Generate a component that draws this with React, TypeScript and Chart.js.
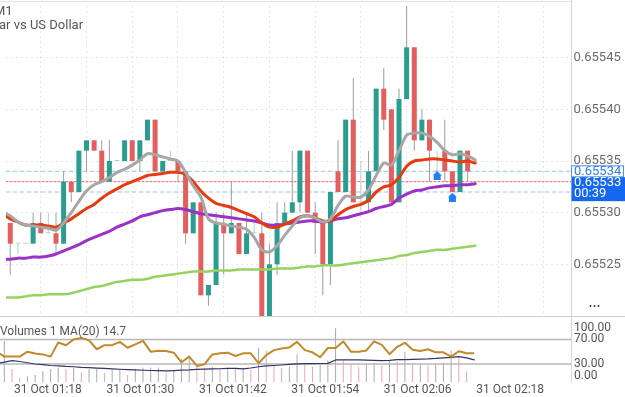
import React, { useEffect, useRef } from "react";
import { Chart, registerables } from "chart.js";

Chart.register(...registerables);

const FONT = "Roboto, 'Liberation Sans', Arial, sans-serif";

// ---- candles (1 per minute, index 0 = 31 Oct 01:17) ----
const opens = [
  0.65529, 0.65527, 0.65527, 0.65527, 0.65529, 0.65528, 0.65528, 0.65527, 0.65533, 0.65532,
  0.65536, 0.65537, 0.65536, 0.65533, 0.65535, 0.65535, 0.65537, 0.65535, 0.65537, 0.65539,
  0.65534, 0.65535, 0.65535, 0.65534, 0.65528, 0.65531, 0.65522, 0.65523, 0.65529, 0.65528,
  0.65529, 0.65526, 0.65528, 0.65528, 0.6552, 0.65525, 0.65529, 0.6553, 0.65531, 0.65536,
  0.6553, 0.65529, 0.65525, 0.65534, 0.65532, 0.65539, 0.65531, 0.65531, 0.65534, 0.65542,
  0.6554, 0.65531, 0.65541, 0.65546, 0.65537, 0.65539, 0.65534, 0.65536, 0.65534, 0.65532,
  0.65536,
];
const highs = [
  0.65529, 0.65527, 0.65527, 0.6553, 0.6553, 0.6553, 0.6553, 0.65534, 0.65533, 0.65536,
  0.65537, 0.65537, 0.65537, 0.65537, 0.65535, 0.65537, 0.65537, 0.65537, 0.65539, 0.65539,
  0.65535, 0.65536, 0.65535, 0.65534, 0.65531, 0.65531, 0.65523, 0.6553, 0.6553, 0.65533,
  0.65529, 0.6553, 0.65529, 0.6553, 0.65527, 0.65531, 0.65531, 0.65536, 0.65536, 0.65536,
  0.65531, 0.65529, 0.65532, 0.65537, 0.65539, 0.65543, 0.65535, 0.65536, 0.65542, 0.65544,
  0.6554, 0.65542, 0.6555, 0.65546, 0.6554, 0.65539, 0.65536, 0.65539, 0.65534, 0.65536,
  0.65536,
];
const lows = [
  0.65524, 0.65526, 0.65527, 0.65527, 0.65528, 0.65528, 0.65526, 0.65527, 0.65531, 0.65532,
  0.65534, 0.65536, 0.65533, 0.65533, 0.65535, 0.65535, 0.65535, 0.65534, 0.65537, 0.65534,
  0.65534, 0.65535, 0.65533, 0.65527, 0.65528, 0.65522, 0.65521, 0.65523, 0.65524, 0.65528,
  0.65526, 0.65526, 0.65528, 0.6552, 0.6552, 0.65524, 0.65529, 0.6553, 0.6553, 0.6553,
  0.65526, 0.65522, 0.65523, 0.65532, 0.65532, 0.65531, 0.6553, 0.6553, 0.65534, 0.65538,
  0.65531, 0.65531, 0.65541, 0.65536, 0.65537, 0.65533, 0.65534, 0.65533, 0.65532, 0.65532,
  0.65533,
];
const closes = [
  0.65527, 0.65527, 0.65527, 0.65529, 0.65528, 0.65528, 0.65527, 0.65533, 0.65532, 0.65536,
  0.65537, 0.65536, 0.65533, 0.65535, 0.65535, 0.65537, 0.65535, 0.65537, 0.65539, 0.65534,
  0.65535, 0.65535, 0.65534, 0.65528, 0.65531, 0.65522, 0.65523, 0.65529, 0.65528, 0.65529,
  0.65526, 0.65528, 0.65528, 0.6552, 0.65525, 0.65529, 0.6553, 0.65531, 0.65536, 0.6553,
  0.65529, 0.65525, 0.65532, 0.65532, 0.65539, 0.65531, 0.65531, 0.65534, 0.65542, 0.65539,
  0.65531, 0.65541, 0.65546, 0.65537, 0.65539, 0.65536, 0.65534, 0.65534, 0.65532, 0.65536,
  0.65534,
];

// ---- moving averages (first value belongs to the candle before index 0) ----
const MA_START = -1;
const maFast = [
  0.655301,
  0.655297, 0.655291, 0.655288, 0.655287, 0.655286, 0.655285, 0.655283, 0.65529, 0.6553, 0.655311,
  0.655321, 0.655327, 0.65533, 0.655334, 0.655339, 0.655342, 0.655346, 0.655351, 0.655357, 0.655356,
  0.655354, 0.655352, 0.65535, 0.655339, 0.655326, 0.655315, 0.655294, 0.65529, 0.655289, 0.655287,
  0.655286, 0.655284, 0.655276, 0.655264, 0.655262, 0.655268, 0.655278, 0.655287, 0.655295, 0.655297,
  0.655295, 0.655291, 0.655294, 0.655307, 0.655316, 0.655315, 0.655315, 0.655322, 0.655336, 0.655348,
  0.655346, 0.65536, 0.655375, 0.655377, 0.655377, 0.655374, 0.655368, 0.65536, 0.655356, 0.655357,
  0.655355, 0.655351,
];
const maMid = [
  0.655299,
  0.655294, 0.655291, 0.655288, 0.655288, 0.655288, 0.655287, 0.655286, 0.65529, 0.655294, 0.655299,
  0.655304, 0.655308, 0.655314, 0.655319, 0.655323, 0.655327, 0.65533, 0.655333, 0.655336, 0.655337,
  0.655338, 0.655339, 0.655339, 0.655337, 0.65533, 0.655321, 0.655314, 0.655309, 0.655307, 0.655305,
  0.655302, 0.655299, 0.655296, 0.65529, 0.655286, 0.655286, 0.655289, 0.655292, 0.655296, 0.655297,
  0.655295, 0.655292, 0.655292, 0.655298, 0.655303, 0.655306, 0.655308, 0.655312, 0.65532, 0.655325,
  0.655327, 0.655334, 0.655345, 0.65535, 0.655351, 0.655352, 0.655352, 0.655351, 0.65535, 0.655349,
  0.65535, 0.655348,
];
const maLong = [
  0.655255,
  0.655255, 0.655256, 0.655256, 0.655257, 0.655257, 0.655258, 0.65526, 0.655263, 0.655266, 0.655269,
  0.655273, 0.655276, 0.655279, 0.655282, 0.655286, 0.655289, 0.655292, 0.655296, 0.655298, 0.6553,
  0.655302, 0.655303, 0.655304, 0.655303, 0.655301, 0.655299, 0.655298, 0.655297, 0.655296, 0.655295,
  0.655294, 0.655293, 0.655292, 0.65529, 0.655288, 0.655288, 0.655289, 0.65529, 0.655291, 0.655292,
  0.655292, 0.655291, 0.655292, 0.655294, 0.655295, 0.655297, 0.655299, 0.655301, 0.655304, 0.655306,
  0.655308, 0.655314, 0.655318, 0.655321, 0.655322, 0.655324, 0.655325, 0.655326, 0.655326, 0.655327,
  0.655327, 0.655328,
];
const maSlow = [
  0.655218,
  0.655218, 0.655218, 0.655219, 0.65522, 0.65522, 0.655221, 0.655221, 0.655221, 0.655222, 0.655224,
  0.655226, 0.655228, 0.655229, 0.655231, 0.655233, 0.655234, 0.655235, 0.655235, 0.655236, 0.655238,
  0.655239, 0.65524, 0.655241, 0.655242, 0.655243, 0.655243, 0.655243, 0.655244, 0.655244, 0.655244,
  0.655245, 0.655245, 0.655245, 0.655245, 0.655245, 0.655246, 0.655246, 0.655246, 0.655247, 0.655248,
  0.655248, 0.655249, 0.655249, 0.655249, 0.65525, 0.655251, 0.655252, 0.655253, 0.655254, 0.655255,
  0.655256, 0.655258, 0.655259, 0.655261, 0.655262, 0.655263, 0.655264, 0.655264, 0.655265, 0.655266,
  0.655267, 0.655268,
];

// ---- price lines and signals ----
const bidPrice = 0.65533;
const askPrice = 0.65534;
const lowLine = 0.65532;
const countdown = "00:39";
const signalIdx = [56, 58];
const signalPrice = [0.655336, 0.655315];

// ---- axes ----
const X_MIN = -0.56;
const X_MAX = 73.56;
const priceTicks = [0.65525, 0.6553, 0.65535, 0.6554, 0.65545];
const gridIdx = [1, 7, 13, 19, 25, 31, 37, 43, 49, 55, 61, 67, 73];
const timeLabels = ["31 Oct 01:18", "31 Oct 01:30", "31 Oct 01:42", "31 Oct 01:54", "31 Oct 02:06", "31 Oct 02:18"];
const timeLabelIdx = [1, 13, 25, 37, 49, 61];

// ---- lower panel ----
const volumes = [
  68, 22, 8, 10, 12, 18, 22, 24, 22, 24,
  16, 22, 22, 15, 20, 22, 12, 22, 24, 24,
  24, 16, 20, 38, 44, 30, 24, 26, 22, 24,
  22, 24, 20, 56, 52, 28, 24, 26, 46, 30,
  26, 30, 36, 88, 36, 30, 26, 30, 32, 28,
  36, 34, 50, 30, 30, 28, 30, 32, 52, 40,
  18,
];
const oscGold = [
  50,
  42, 42, 42, 50, 47, 45.6, 42, 65, 60.6, 70,
  72.5, 68.6, 54, 60.6, 60.6, 66, 56.4, 62, 67.7, 50,
  51.6, 51, 48.4, 32.8, 42, 26.8, 29.6, 45.6, 47.3, 48.4,
  43, 47.3, 47.3, 31.2, 44.5, 52.6, 55.3, 57, 66, 52.6,
  49, 41, 56, 56, 66.7, 50, 50, 52, 66.7, 61,
  46, 58, 64.5, 53, 51, 54, 49, 49, 42, 50.8,
  47.5, 47.5,
];
const oscNavy = [
  31,
  33, 35.5, 34, 32, 30, 29, 27.5, 27, 26, 25.5,
  24.5, 24, 23.3, 22.7, 22, 21.4, 20.8, 20.3, 19.8, 19.4,
  19.1, 18.8, 19.3, 20, 20.5, 21.3, 21.6, 21.9, 22.2, 22.7,
  23, 22, 23.5, 25.5, 26.8, 27.5, 28.3, 29.3, 30.3, 30.7,
  30.7, 30.8, 31, 36.6, 36.6, 36.6, 36.6, 36.3, 36, 35.5,
  36, 37, 37.2, 37.5, 38, 38.3, 39, 40, 40.7, 42,
  40, 36.6,
];
const subTicks = [100, 70, 30, 0];
const subLevels = [70, 30];

const TEAL = "#2a9d8f";
const RED = "#e25f5e";
const DOJI = "#b8d0cb";
const WICK = "#9d9d9d";

const pts = (arr: number[], start = 0) => arr.map((v, i) => ({ x: i + start, y: v }));
const hline = (v: number) => [
  { x: X_MIN, y: v },
  { x: X_MAX, y: v },
];

function makeArrow() {
  const c = document.createElement("canvas");
  c.width = 9;
  c.height = 9;
  const g = c.getContext("2d")!;
  g.fillStyle = "#1f7ff2";
  g.beginPath();
  g.moveTo(4.5, 0);
  g.lineTo(9, 4.5);
  g.lineTo(8, 4.5);
  g.lineTo(8, 9);
  g.lineTo(1, 9);
  g.lineTo(1, 4.5);
  g.lineTo(0, 4.5);
  g.closePath();
  g.fill();
  return c;
}

const mainDecor = {
  id: "mainDecor",
  afterDraw(chart: any) {
    const { ctx, chartArea, scales } = chart;
    const y = scales.y;
    const r = chartArea.right;
    ctx.save();
    ctx.lineWidth = 1;
    ctx.strokeStyle = "#e2e2e2";
    ctx.beginPath();
    ctx.moveTo(0, 1.5);
    ctx.lineTo(r, 1.5);
    ctx.stroke();
    ctx.strokeStyle = "#cfcfcf";
    ctx.beginPath();
    ctx.moveTo(0, chartArea.bottom + 0.5);
    ctx.lineTo(chart.width, chartArea.bottom + 0.5);
    ctx.stroke();
    ctx.strokeStyle = "#d6d6d6";
    ctx.beginPath();
    ctx.moveTo(r + 0.5, 0);
    ctx.lineTo(r + 0.5, chart.height);
    ctx.stroke();

    ctx.font = `13px ${FONT}`;
    ctx.textBaseline = "middle";
    ctx.textAlign = "left";
    const ya = y.getPixelForValue(askPrice);
    ctx.fillStyle = "#ffffff";
    ctx.fillRect(r + 0.5, ya - 5.5, 52, 11);
    ctx.strokeStyle = "#4a90f2";
    ctx.strokeRect(r + 0.5, ya - 5.5, 52, 11);
    ctx.fillStyle = "#2f7cf0";
    ctx.fillText(askPrice.toFixed(5), r + 3, ya + 0.5);

    const yb = y.getPixelForValue(bidPrice);
    ctx.fillStyle = "#1467f0";
    ctx.fillRect(r + 0.5, yb - 4.5, chart.width - r, 24);
    ctx.fillStyle = "#ffffff";
    ctx.fillText(bidPrice.toFixed(5), r + 3, yb + 1);
    ctx.fillText(countdown, r + 3, yb + 12);
    ctx.restore();
  },
};

const subDecor = {
  id: "subDecor",
  afterDraw(chart: any) {
    const { ctx, chartArea, scales } = chart;
    const y = scales.y;
    ctx.save();
    ctx.strokeStyle = "#d6d6d6";
    ctx.lineWidth = 1;
    ctx.beginPath();
    ctx.moveTo(chartArea.right + 0.5, 0);
    ctx.lineTo(chartArea.right + 0.5, chartArea.bottom);
    ctx.stroke();
    ctx.font = `12px ${FONT}`;
    ctx.fillStyle = "#555555";
    ctx.textBaseline = "middle";
    ctx.textAlign = "left";
    subTicks.forEach((v) => {
      let py = y.getPixelForValue(v);
      py = Math.min(Math.max(py, chartArea.top + 7), chartArea.bottom - 6.5);
      ctx.fillText(v.toFixed(2), chartArea.right + 3, py);
    });
    ctx.restore();
  },
};

export default function App() {
  const mainRef = useRef<HTMLCanvasElement>(null);
  const subRef = useRef<HTMLCanvasElement>(null);

  useEffect(() => {
    Chart.defaults.font.family = FONT;
    const doji = opens.map((o, i) => o === closes[i]);
    const bodyColors = opens.map((o, i) => (doji[i] ? DOJI : closes[i] > o ? TEAL : RED));
    const wickColors = opens.map((o, i) => (doji[i] ? DOJI : WICK));
    const arrow = makeArrow();

    const lineDs = (data: any[], color: string, width: number, order: number, extra: any = {}) => ({
      type: "line",
      data,
      borderColor: color,
      borderWidth: width,
      pointRadius: 0,
      tension: 0.3,
      fill: false,
      order,
      borderCapStyle: "round",
      borderJoinStyle: "round",
      ...extra,
    });

    const main = new Chart(mainRef.current!, {
      type: "bar",
      data: {
        datasets: [
          lineDs(hline(askPrice), "#9cc4f5", 1, 30, { borderDash: [4, 3], tension: 0 }),
          lineDs(hline(lowLine), "#9cc4f5", 1, 30, { borderDash: [4, 3], tension: 0 }),
          lineDs(hline(bidPrice), "#e36a6a", 1, 29, { borderDash: [2, 2], tension: 0 }),
          {
            type: "bar",
            data: opens.map((o, i) => ({ x: i, y: [lows[i], highs[i]] })),
            backgroundColor: wickColors,
            barThickness: 1,
            grouped: false,
            inflateAmount: 0,
            order: 21,
          },
          {
            type: "bar",
            data: opens.map((o, i) => ({ x: i, y: [o, closes[i]] })),
            backgroundColor: bodyColors,
            barThickness: 5,
            grouped: false,
            minBarLength: 1,
            inflateAmount: 0,
            order: 20,
          },
          lineDs(pts(maSlow, MA_START), "#96d35e", 2.5, 8),
          lineDs(pts(maLong, MA_START), "#9a32c8", 3, 7),
          lineDs(pts(maMid, MA_START), "#e63a10", 3, 6),
          lineDs(pts(maFast, MA_START), "#a7a7a7", 3, 5),
          {
            type: "line",
            data: signalIdx.map((ix, k) => ({ x: ix, y: signalPrice[k] })),
            showLine: false,
            pointStyle: arrow,
            pointRadius: 5,
            order: 1,
          },
        ] as any,
      },
      options: {
        animation: false,
        responsive: false,
        maintainAspectRatio: false,
        events: [],
        layout: { padding: { left: 0, right: 0, top: 0, bottom: 1 } },
        plugins: { legend: { display: false }, tooltip: { enabled: false } },
        scales: {
          x: {
            type: "linear",
            min: X_MIN,
            max: X_MAX,
            offset: false,
            ticks: { display: false },
            grid: { color: "#e6e6e6", drawTicks: false, lineWidth: 1 },
            border: { display: false, dash: [2, 3] },
            afterBuildTicks: (s: any) => {
              s.ticks = gridIdx.map((v) => ({ value: v }));
            },
            afterFit: (s: any) => {
              s.height = 0;
              s.paddingLeft = 0;
              s.paddingRight = 0;
            },
          },
          y: {
            position: "right",
            min: 0.6552,
            max: 0.6555,
            grid: { color: "#e9e9e9", drawTicks: false, lineWidth: 1 },
            border: { display: false, dash: [2, 3] },
            ticks: {
              color: "#6b6b6b",
              font: { size: 13, family: FONT },
              padding: 2.5,
              callback: (v: any) => Number(v).toFixed(5),
            },
            afterBuildTicks: (s: any) => {
              s.ticks = priceTicks.map((v) => ({ value: v }));
            },
            afterFit: (s: any) => {
              s.width = 54;
              s.paddingTop = 0;
              s.paddingBottom = 0;
            },
          },
        } as any,
      },
      plugins: [mainDecor],
    });

    const volColors = volumes.map((v, i) => (i === 0 || v >= volumes[i - 1] ? "#a9a9a9" : "#f3a3b3"));
    const sub = new Chart(subRef.current!, {
      type: "bar",
      data: {
        datasets: [
          {
            type: "bar",
            data: pts(volumes),
            backgroundColor: volColors,
            barThickness: 1,
            grouped: false,
            inflateAmount: 0,
            order: 10,
          },
          ...subLevels.map((lv) => lineDs(hline(lv), "#b7b7b7", 1.5, 8, { tension: 0 })),
          lineDs(pts(oscNavy, MA_START), "#33346c", 1.2, 3, { tension: 0 }),
          lineDs(pts(oscGold, MA_START), "#c28a2c", 2, 2, { tension: 0, borderCapStyle: "butt" }),
        ] as any,
      },
      options: {
        animation: false,
        responsive: false,
        maintainAspectRatio: false,
        events: [],
        layout: { padding: 0 },
        plugins: { legend: { display: false }, tooltip: { enabled: false } },
        scales: {
          x: {
            type: "linear",
            min: X_MIN,
            max: X_MAX,
            offset: false,
            grid: { display: false, drawTicks: false },
            border: { display: false },
            ticks: {
              align: "start",
              labelOffset: 2,
              padding: 0,
              maxRotation: 0,
              autoSkip: false,
              color: "#555555",
              font: { size: 12, family: FONT },
              callback: (_v: any, i: number) => timeLabels[i],
            },
            afterBuildTicks: (s: any) => {
              s.ticks = timeLabelIdx.map((v) => ({ value: v }));
            },
            afterFit: (s: any) => {
              s.height = 14.6;
              s.paddingLeft = 0;
              s.paddingRight = 0;
            },
          },
          y: {
            position: "right",
            min: 0,
            max: 100,
            ticks: { display: false },
            grid: { display: false, drawTicks: false },
            border: { display: false },
            afterFit: (s: any) => {
              s.width = 54;
              s.paddingTop = 0;
              s.paddingBottom = 0;
            },
          },
        } as any,
      },
      plugins: [subDecor],
    });

    return () => {
      main.destroy();
      sub.destroy();
    };
  }, []);

  const txt: React.CSSProperties = {
    position: "absolute",
    whiteSpace: "nowrap",
    fontFamily: FONT,
    color: "#555555",
    pointerEvents: "none",
  };

  return (
    <div
      style={{
        position: "fixed",
        left: 0,
        top: 0,
        width: 625,
        height: 397,
        background: "#ffffff",
        overflow: "hidden",
      }}
    >
      <canvas ref={mainRef} width={625} height={322} style={{ position: "absolute", left: 0, top: 0 }} />
      <canvas ref={subRef} width={625} height={76} style={{ position: "absolute", left: 0, top: 321 }} />
      <div style={{ ...txt, left: -6, top: 3, fontSize: 13, lineHeight: "15px" }}>M1</div>
      <div style={{ ...txt, left: -1, top: 17, fontSize: 13, lineHeight: "15px" }}>ar vs US Dollar</div>
      <div style={{ ...txt, left: 0, top: 324, fontSize: 12, lineHeight: "14px" }}>Volumes 1 MA(20) 14.7</div>
      <div style={{ ...txt, left: 589, top: 299, fontSize: 9, lineHeight: "14px", color: "#333333", letterSpacing: 1 }}>
        •••
      </div>
    </div>
  );
}
